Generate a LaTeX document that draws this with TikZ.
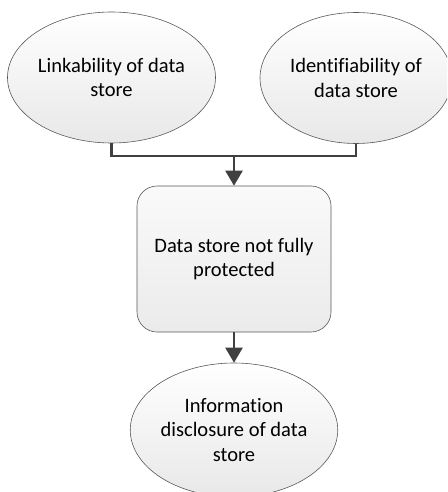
\documentclass[tikz,border=0pt]{standalone}
\usepackage{fontspec}
\setmainfont[Ligatures=NoCommon]{Carlito}
\usetikzlibrary{positioning, calc}
\usetikzlibrary{shapes.geometric}
\usetikzlibrary{arrows.meta}

\begin{document}
\begin{tikzpicture}[x=1pt, y=-1pt,
        oval/.style = {ellipse, draw=black!65, line width=0.6pt,
            top color=white, bottom color=black!9, align=center,
            inner sep=0pt, font=\fontsize{20.5}{24.5}\selectfont},
        roundbox/.style = {rectangle, rounded corners=20pt, draw=black!65,
            line width=0.6pt, top color=black!2, bottom color=black!8,
            align=center, inner sep=0pt, font=\fontsize{20.5}{24.5}\selectfont},
        link/.style = {draw=black!75, line width=2.4pt},
        flow/.style = {link, -{Triangle[length=15pt, width=17pt]}}]
            \useasboundingbox (0,0) rectangle (447,492);
            \begin{scope}
            \clip (0,0) rectangle (447,492);
            \node[oval, minimum width=199pt, minimum height=131pt] (linkab) at (111.5,77.5) {Linkability of data\\store};
            \node[oval, minimum width=192pt, minimum height=131pt] (identif) at (356,78) {Identifiability of\\data store};
            \node[roundbox, minimum width=194pt, minimum height=146pt] (unprot) at (234,259) {Data store not fully\\protected};
            \node[oval, minimum width=196pt, minimum height=134pt] (disclose) at (234,430) {Information\\disclosure of data\\store};
            \end{scope}
            \coordinate (join) at (234,156);
            % both threats feed the unprotected store
            \draw[link] (linkab.south) |- (join) -| (identif.south);
            \draw[flow] (join) -- (unprot.north);
            \draw[flow] (unprot.south) -- (disclose.north);
        \end{tikzpicture}
\end{document}
